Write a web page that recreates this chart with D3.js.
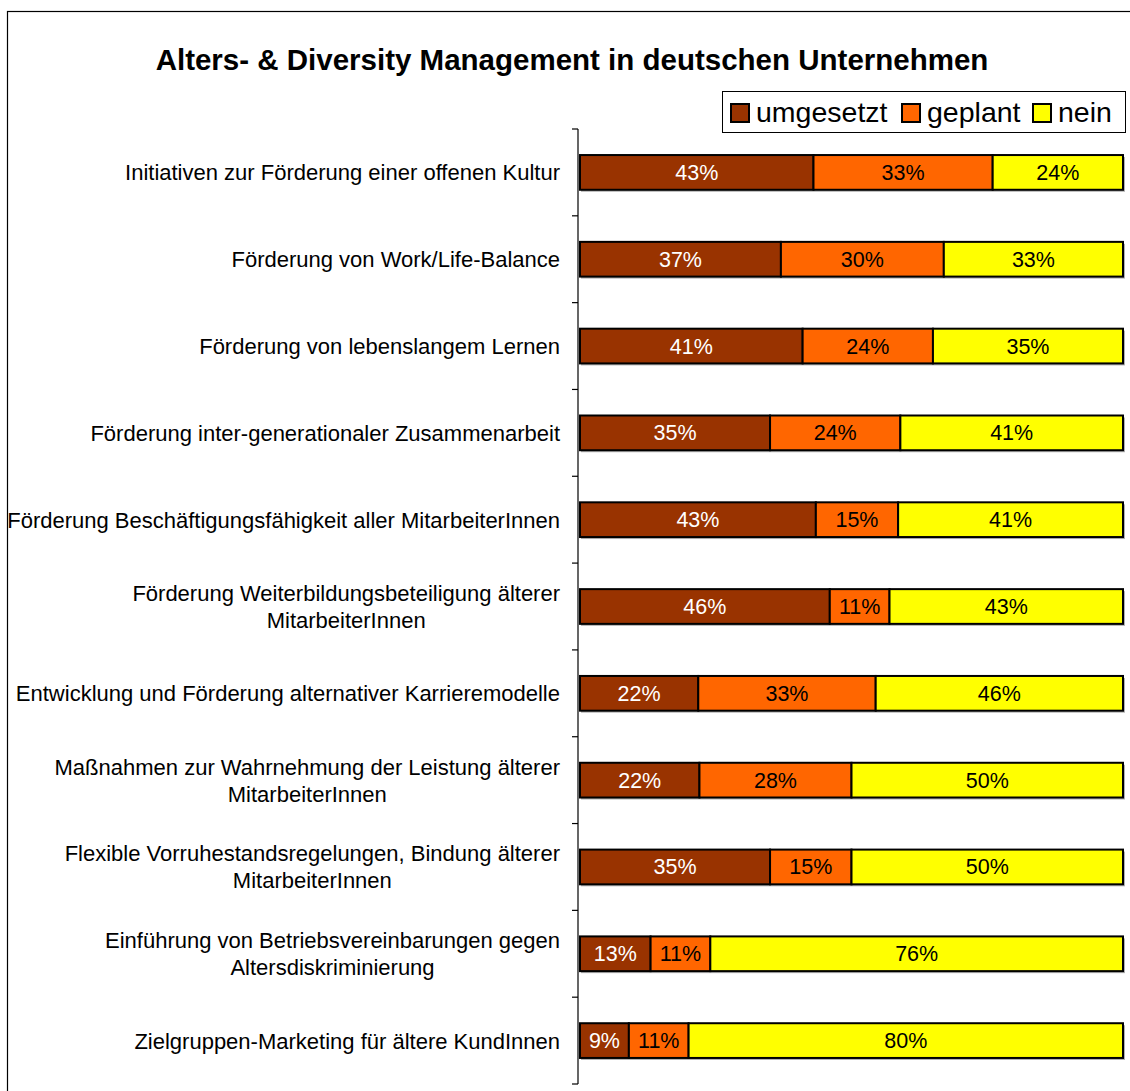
<!DOCTYPE html>
<html>
<head>
<meta charset="utf-8">
<script src="https://cdn.jsdelivr.net/npm/d3@7"></script>
<style>
  body { margin: 0; background: #fff; }
  text { font-family: "Liberation Sans", Arial, sans-serif; }
</style>
</head>
<body>
<svg id="chart"></svg>
<script>
// Data
const categories = [
    ["Initiativen zur Förderung einer offenen Kultur"],
    ["Förderung von Work/Life-Balance"],
    ["Förderung von lebenslangem Lernen"],
    ["Förderung inter-generationaler Zusammenarbeit"],
    ["Förderung Beschäftigungsfähigkeit aller MitarbeiterInnen"],
    ["Förderung Weiterbildungsbeteiligung älterer", "MitarbeiterInnen"],
    ["Entwicklung und Förderung alternativer Karrieremodelle"],
    ["Maßnahmen zur Wahrnehmung der Leistung älterer", "MitarbeiterInnen"],
    ["Flexible Vorruhestandsregelungen, Bindung älterer", "MitarbeiterInnen"],
    ["Einführung von Betriebsvereinbarungen gegen", "Altersdiskriminierung"],
    ["Zielgruppen-Marketing für ältere KundInnen"]
];
const umgesetzt = [43, 37, 41, 35, 43, 46, 22, 22, 35, 13, 9];
const geplant   = [33, 30, 24, 24, 15, 11, 33, 28, 15, 11, 11];
const nein      = [24, 33, 35, 41, 41, 43, 46, 50, 50, 76, 80];
const seriesNames = ["umgesetzt", "geplant", "nein"];
const colors = ["#993300", "#FF6600", "#FFFF00"];
const textColors = ["#fff", "#000", "#000"];

const width = 1130;
const height = 1091;

const svg = d3.select("#chart")
    .attr("width", width)
    .attr("height", height);

// outer frame
svg.append("rect")
    .attr("x", 7.5).attr("y", 11.5)
    .attr("width", 1140).attr("height", 1100)
    .attr("fill", "none")
    .attr("stroke", "#000")
    .attr("stroke-width", 1.2);

// title
svg.append("text")
    .attr("x", 572)
    .attr("y", 70)
    .attr("text-anchor", "middle")
    .attr("font-size", 29.5)
    .attr("font-weight", "bold")
    .text("Alters- & Diversity Management in deutschen Unternehmen");

// table for stacking
const table = categories.map((c, i) => ({
    key: i,
    umgesetzt: umgesetzt[i],
    geplant: geplant[i],
    nein: nein[i]
}));

const stack = d3.stack()
    .keys(seriesNames)
    .offset(d3.stackOffsetExpand);
const stacked = stack(table);

const x = d3.scaleLinear()
    .domain([0, 1])
    .range([580, 1123]);

const y = d3.scaleBand()
    .domain(d3.range(categories.length))
    .range([129, 1084])
    .padding(0);

const barH = y.bandwidth() * 0.4;

// y axis with outward ticks at category boundaries
const axis = svg.append("g");
axis.append("line")
    .attr("x1", 578).attr("x2", 578)
    .attr("y1", 129).attr("y2", 1084)
    .attr("stroke", "#000")
    .attr("stroke-width", 1.2);
axis.selectAll(".tick")
    .data(d3.range(categories.length + 1))
    .enter()
    .append("line")
    .attr("x1", 572).attr("x2", 578)
    .attr("y1", d => 129 + d * y.step())
    .attr("y2", d => 129 + d * y.step())
    .attr("stroke", "#000")
    .attr("stroke-width", 1.2);

// shadows behind bars
svg.append("g")
    .selectAll("rect")
    .data(table)
    .enter()
    .append("rect")
    .attr("x", x(0) + 1)
    .attr("y", d => y(d.key) + (y.bandwidth() - barH) / 2 + 2)
    .attr("width", x(1) - x(0) + 1)
    .attr("height", barH)
    .attr("fill", "#b0b0b0");

// bars
const groups = svg.selectAll(".series")
    .data(stacked)
    .enter()
    .append("g")
    .attr("class", "series");

groups.selectAll("rect")
    .data((s, si) => s.map(d => ({ d: d, si: si })))
    .enter()
    .append("rect")
    .attr("x", p => x(p.d[0]))
    .attr("y", p => y(p.d.data.key) + (y.bandwidth() - barH) / 2)
    .attr("width", p => x(p.d[1]) - x(p.d[0]))
    .attr("height", barH)
    .attr("fill", p => colors[p.si])
    .attr("stroke", "#000")
    .attr("stroke-width", 2);

// value labels
groups.selectAll("text")
    .data((s, si) => s.map(d => ({ d: d, si: si, key: s.key })))
    .enter()
    .append("text")
    .attr("x", p => (x(p.d[0]) + x(p.d[1])) / 2)
    .attr("y", p => y(p.d.data.key) + y.bandwidth() / 2 + 7.5)
    .attr("text-anchor", "middle")
    .attr("font-size", 21.5)
    .attr("fill", p => textColors[p.si])
    .text(p => p.d.data[p.key] + "%");

// category labels: block right aligned, lines centred in the block
const labels = svg.append("g");
categories.forEach((lines, i) => {
    const cy = y(i) + y.bandwidth() / 2;
    const probe = labels.append("text")
        .attr("font-size", 22)
        .text(lines[0]);
    const w = d3.max(lines, l => {
        probe.text(l);
        return probe.node().getComputedTextLength();
    });
    probe.remove();
    const cx = 560 - w / 2;
    const lh = 27;
    lines.forEach((l, j) => {
        labels.append("text")
            .attr("x", cx)
            .attr("y", cy + 8 + (j - (lines.length - 1) / 2) * lh)
            .attr("text-anchor", "middle")
            .attr("font-size", 22)
            .text(l);
    });
});

// legend
const legend = svg.append("g");
legend.append("rect")
    .attr("x", 722.5).attr("y", 91.5)
    .attr("width", 403).attr("height", 41)
    .attr("fill", "#fff")
    .attr("stroke", "#000")
    .attr("stroke-width", 1);
const legendX = [731, 902, 1033];
seriesNames.forEach((name, i) => {
    legend.append("rect")
        .attr("x", legendX[i]).attr("y", 104)
        .attr("width", 18).attr("height", 18)
        .attr("fill", colors[i])
        .attr("stroke", "#000")
        .attr("stroke-width", 2);
    legend.append("text")
        .attr("x", legendX[i] + 25)
        .attr("y", 122)
        .attr("font-size", 28.5)
        .text(name);
});
</script>
</body>
</html>
